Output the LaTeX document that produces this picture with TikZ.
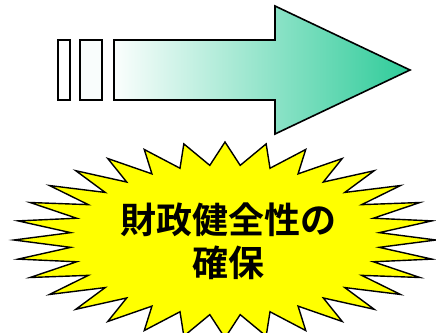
\documentclass[tikz,border=0pt]{standalone}
\usepackage{fontspec}
\newfontfamily\jpfont{Noto Sans CJK JP}[BoldFont={* Bold}]
\usetikzlibrary{positioning}
\definecolor{mintgreen}{RGB}{46,203,153}
\definecolor{burstyellow}{RGB}{255,255,0}

\begin{document}
\begin{tikzpicture}[x=1pt, y=-1pt,
        outline/.style={draw=black, line width=1.6pt, line join=miter},
        bar/.style={outline, fill=#1},
        burst/.style={outline, fill=burstyellow, line width=1.4pt},
        label/.style={font=\jpfont\bfseries\fontsize{36}{43}\selectfont, align=center, inner sep=0pt}]
        \useasboundingbox (0,0) rectangle (436,332);
        \clip (0,0) rectangle (436,332);

        % arrow
        \draw[bar=white] (58,40) rectangle (70,100);
        \draw[bar=mintgreen!3] (80,40) rectangle (102,100);
        \draw[outline, left color=mintgreen!2, right color=mintgreen]
            (114,40) -- (275,40) -- (275,6) -- (410,70) -- (275,134) -- (275,100) -- (114,100) -- cycle;

        % starburst
        \draw[burst] plot[samples=65, domain=0:64, variable=\k]
            ({225 + (155 + 28*(1+cos(180*\k)))*cos(\k*5.625)},
             {240 - (75 + 11.5*(1+cos(180*\k)))*sin(\k*5.625)}) -- cycle;

        \node[label] (goal) at (228,241) {財政健全性の\\確保};
\end{tikzpicture}
\end{document}
